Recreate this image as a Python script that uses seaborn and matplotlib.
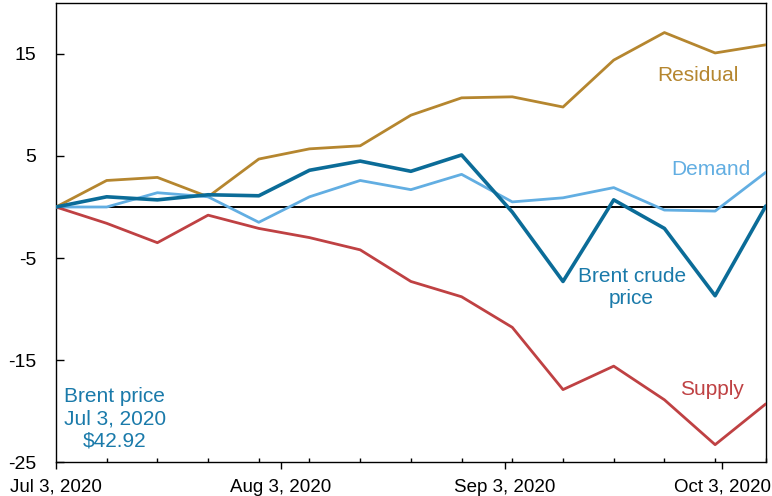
import pandas as pd
import numpy as np
import matplotlib
matplotlib.use('Agg')
import matplotlib.pyplot as plt
import seaborn as sns

# ── Data (cumulative contribution, weekly from Jul 3, 2020) ────
dates = pd.date_range('2020-07-03', periods=15, freq='7D')

brent    = [0, 1.0, 0.7, 1.2, 1.1, 3.6, 4.5, 3.5, 5.1, -0.5, -7.3, 0.7, -2.1, -8.7, 0.1]
demand   = [0, 0.0, 1.4, 1.0, -1.5, 1.0, 2.6, 1.7, 3.2, 0.5, 0.9, 1.9, -0.3, -0.4, 3.4]
supply   = [0, -1.6, -3.5, -0.8, -2.1, -3.0, -4.2, -7.3, -8.8, -11.8, -17.9, -15.6, -18.9, -23.3, -19.3]
residual = [0, 2.6, 2.9, 1.0, 4.7, 5.7, 6.0, 9.0, 10.7, 10.8, 9.8, 14.4, 17.1, 15.1, 15.9]

colors = {'Residual': '#B5862F', 'Demand': '#62AEE2',
          'Brent crude price': '#0B6C98', 'Supply': '#BF4143'}
widths = {'Residual': 2.0, 'Demand': 2.0, 'Brent crude price': 2.6, 'Supply': 2.0}

y_ticks = [-25, -15, -5, 5, 15]
x_major = pd.to_datetime(['2020-07-03', '2020-08-03', '2020-09-03', '2020-10-03'])
x_labels = ['Jul 3, 2020', 'Aug 3, 2020', 'Sep 3, 2020', 'Oct 3, 2020']

df = pd.DataFrame({'date': dates, 'Residual': residual, 'Demand': demand,
                   'Brent crude price': brent, 'Supply': supply})
long = df.melt(id_vars='date', var_name='series', value_name='value')

# ── Plot ──────────────────────────────────────────────────────
sns.set_style('white')
plt.rcParams['font.family'] = ['Liberation Sans', 'DejaVu Sans']
plt.rcParams['axes.unicode_minus'] = False

fig = plt.figure(figsize=(7.72, 4.96), dpi=100)
ax = fig.add_axes([0.0725, 0.0685, 0.9195, 0.9255])

ax.axhline(0, color='black', lw=1.4, zorder=1)

for name in ['Residual', 'Demand', 'Supply', 'Brent crude price']:
    sub = long[long['series'] == name]
    sns.lineplot(data=sub, x='date', y='value', color=colors[name],
                 lw=widths[name], ax=ax, legend=False, zorder=3)

ax.set_xlim(dates[0], dates[-1])
ax.set_ylim(-25, 20)
ax.set_yticks(y_ticks)
ax.set_xticks(x_major)
ax.set_xticklabels(x_labels)
ax.set_xticks(dates, minor=True)
ax.set_xlabel('')
ax.set_ylabel('')

for s in ax.spines.values():
    s.set_color('black')
    s.set_linewidth(1.0)

ax.tick_params(axis='y', which='major', left=True, direction='in', length=6,
               width=1, labelsize=14, pad=14, colors='black')
ax.tick_params(axis='x', which='major', bottom=True, direction='out', length=5,
               width=1, labelsize=13.5, pad=7, colors='black')
ax.tick_params(axis='x', which='minor', bottom=True, direction='in', length=3,
               width=1, colors='black')

# ── Labels ────────────────────────────────────────────────────
ax.text(0.904, 0.841, 'Residual', transform=ax.transAxes, color=colors['Residual'],
        fontsize=15, ha='center', va='center')
ax.text(0.923, 0.638, 'Demand', transform=ax.transAxes, color=colors['Demand'],
        fontsize=15, ha='center', va='center')
ax.text(0.811, 0.381, 'Brent crude\nprice', transform=ax.transAxes,
        color='#1A7AAA', fontsize=15, ha='center', va='center', linespacing=1.2)
ax.text(0.083, 0.094, 'Brent price\nJul 3, 2020\n$42.92', transform=ax.transAxes,
        color='#1A7AAA', fontsize=15, ha='center', va='center', linespacing=1.2)
ax.text(0.924, 0.157, 'Supply', transform=ax.transAxes, color=colors['Supply'],
        fontsize=15, ha='center', va='center')

plt.savefig('out.png', dpi=100)
